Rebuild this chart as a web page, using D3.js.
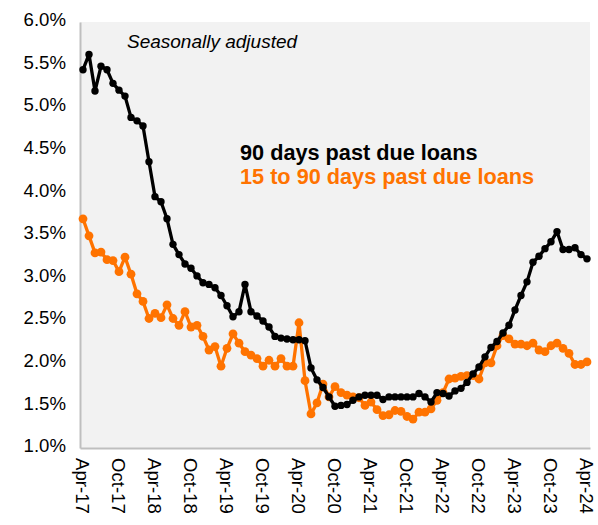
<!DOCTYPE html>
<html><head><meta charset="utf-8">
<script src="https://cdn.jsdelivr.net/npm/d3@7"></script>
<style>body{margin:0;background:#fff}svg{display:block}</style>
</head><body>
<svg id="c" width="598" height="525"></svg>
<script>
const startYear = 2017, startMonth = 3; // Apr-17
const black90 = [5.44,5.62,5.19,5.48,5.44,5.28,5.20,5.13,4.88,4.84,4.78,4.36,3.95,3.89,3.69,3.39,3.27,3.16,3.11,3.02,
2.94,2.92,2.88,2.79,2.67,2.54,2.60,2.92,2.60,2.55,2.49,2.42,2.31,2.29,2.28,2.27,2.27,2.26,1.94,1.80,
1.71,1.60,1.49,1.50,1.51,1.56,1.60,1.62,1.62,1.62,1.57,1.60,1.60,1.60,1.60,1.60,1.64,1.60,1.54,1.65,
1.64,1.61,1.67,1.70,1.77,1.87,1.95,2.07,2.18,2.25,2.35,2.44,2.62,2.79,2.95,3.18,3.25,3.34,3.42,3.54,
3.33,3.33,3.35,3.27,3.22];
const orange15 = [3.69,3.49,3.29,3.30,3.21,3.20,3.07,3.24,3.04,2.81,2.72,2.52,2.58,2.53,2.68,2.52,2.44,2.60,2.42,2.44,
2.31,2.15,2.19,1.96,2.17,2.34,2.23,2.13,2.09,2.05,1.96,2.03,1.96,2.05,1.96,1.96,2.47,1.79,1.40,1.53,
1.75,1.60,1.72,1.65,1.62,1.60,1.59,1.50,1.54,1.45,1.38,1.39,1.44,1.43,1.37,1.34,1.42,1.42,1.46,1.56,
1.65,1.81,1.82,1.84,1.85,1.85,1.81,2.00,2.00,2.20,2.32,2.28,2.22,2.22,2.20,2.23,2.15,2.13,2.20,2.23,
2.17,2.11,1.98,1.98,2.01];
const yTicks = [1.0,1.5,2.0,2.5,3.0,3.5,4.0,4.5,5.0,5.5,6.0];
const monthNames = ["Jan","Feb","Mar","Apr","May","Jun","Jul","Aug","Sep","Oct","Nov","Dec"];
const months = black90.map((d,i)=>{const m=startMonth+i;return monthNames[m%12]+"-"+String(startYear%100+Math.floor(m/12));});
const xTickLabels = months.filter((d,i)=>i%6===0);
const seriesNames = ["90 days past due loans","15 to 90 days past due loans"];
const colors = ["#000000","#ff7300"];

const svg = d3.select("#c");
const pL=80, pR=590, pT=22, pB=448;
const x = d3.scaleBand().domain(months).range([pL,pR]);
const y = d3.scaleLinear().domain([1,6]).range([pB,pT]);
const cx = d => x(d)+x.bandwidth()/2;
const FONT = "Liberation Sans, Arial, sans-serif";

svg.append("rect").attr("x",pL).attr("y",pT).attr("width",pR-pL).attr("height",pB-pT).attr("fill","#f2f2f2");

const yAxis = d3.axisLeft(y).tickValues(yTicks).tickFormat(d=>d.toFixed(1)+"%").tickSize(0).tickPadding(14);
const gy = svg.append("g").attr("transform",`translate(${pL},0)`).call(yAxis);
gy.select(".domain").attr("stroke","#bfbfbf").attr("stroke-width",2);
gy.selectAll("text").attr("font-family",FONT).attr("font-size",18.6).attr("fill","#000").attr("dy","0.2em");

const xAxis = d3.axisBottom(x).tickValues(xTickLabels).tickSize(0).tickPadding(0);
const gx = svg.append("g").attr("transform",`translate(0,${pB})`).call(xAxis);
gx.select(".domain").attr("stroke","#bfbfbf").attr("stroke-width",2);
gx.selectAll("text").attr("font-family",FONT).attr("font-size",18.6).attr("fill","#000")
  .attr("text-anchor","start").attr("transform","translate(0,10) rotate(90)").attr("x",0).attr("y",0).attr("dy","0.35em");

const line = d3.line().x((d,i)=>cx(months[i])).y(d=>y(d));
[orange15, black90].forEach((s,k)=>{
  const col = k===0?colors[1]:colors[0];
  const r = k===0?4.4:3.7;
  svg.append("path").datum(s).attr("d",line).attr("fill","none").attr("stroke",col).attr("stroke-width",3.3).attr("stroke-linejoin","round");
  svg.append("g").selectAll("circle").data(s).join("circle").attr("cx",(d,i)=>cx(months[i])).attr("cy",d=>y(d)).attr("r",r).attr("fill",col);
});

svg.append("text").attr("x",127).attr("y",48).attr("font-family",FONT).attr("font-style","italic").attr("font-size",19).text("Seasonally adjusted");
seriesNames.forEach((n,k)=>{
  svg.append("text").attr("x",240).attr("y",160+k*24).attr("font-family",FONT).attr("font-weight","bold").attr("font-size",21.7).attr("fill",colors[k]).text(n);
});
</script>
</body></html>
